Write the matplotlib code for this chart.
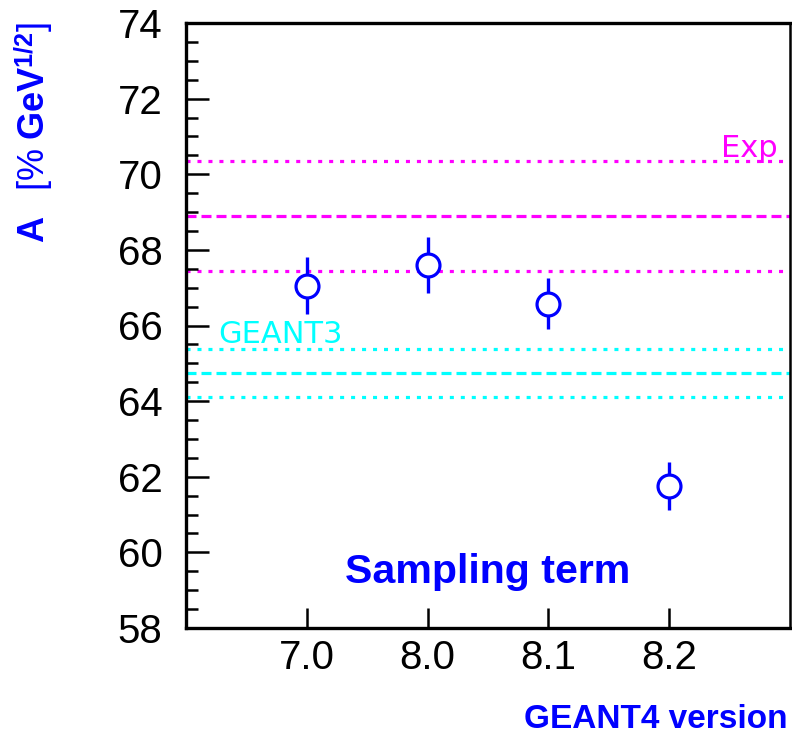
import matplotlib
matplotlib.use("Agg")
import matplotlib.pyplot as plt
import numpy as np

# Sampling term A for each GEANT4 release
versions = ["7.0", "8.0", "8.1", "8.2"]
A = [67.05, 67.60, 66.58, 61.75]
A_err = [0.75, 0.75, 0.67, 0.63]

# Reference bands: experiment and GEANT3 (central value, uncertainty)
exp_A, exp_err = 68.90, 1.45
g3_A, g3_err = 64.75, 0.64

BLUE = "#0000ff"
MAGENTA = "#ff00ff"
CYAN = "#00ffff"

plt.rcParams["lines.scale_dashes"] = False
plt.rcParams["mathtext.fontset"] = "custom"
plt.rcParams["mathtext.rm"] = "Liberation Sans"
plt.rcParams["mathtext.bf"] = "Liberation Sans:bold"
plt.rcParams["mathtext.it"] = "Liberation Serif:italic"

fig = plt.figure(figsize=(7.92, 7.35), dpi=100)
ax = fig.add_axes([186 / 792, 1 - 628 / 735, (790 - 186) / 792, (628 - 23) / 735])

x = np.arange(1, len(versions) + 1)

dotted = (0, (2.9, 5.0))
dashed = (0, (7.2, 3.6))
lw_band = 2.3

# Experimental band
ax.axhline(exp_A + exp_err, color=MAGENTA, lw=lw_band, ls=dotted, zorder=1)
ax.axhline(exp_A, color=MAGENTA, lw=lw_band, ls=dashed, zorder=1)
ax.axhline(exp_A - exp_err, color=MAGENTA, lw=lw_band, ls=dotted, zorder=1)

# GEANT3 band
ax.axhline(g3_A + g3_err, color=CYAN, lw=lw_band, ls=dotted, zorder=1)
ax.axhline(g3_A, color=CYAN, lw=lw_band, ls=dashed, zorder=1)
ax.axhline(g3_A - g3_err, color=CYAN, lw=lw_band, ls=dotted, zorder=1)

ax.errorbar(x, A, yerr=A_err, fmt="o", color=BLUE, ecolor=BLUE,
            elinewidth=2.4, capsize=0, markersize=16.5,
            markerfacecolor="white", markeredgecolor=BLUE,
            markeredgewidth=2.3, zorder=3)

ax.text(778 / 792, 1 - 157 / 735, "Exp", transform=fig.transFigure,
        color=MAGENTA, fontsize=22, family="DejaVu Sans",
        ha="right", va="baseline")
ax.text(218 / 792, 1 - 343 / 735, "GEANT3", transform=fig.transFigure,
        color=CYAN, fontsize=22, family="DejaVu Sans",
        ha="left", va="baseline")

ax.text(488 / 792, 1 - 583 / 735, "Sampling term", transform=fig.transFigure,
        color=BLUE, fontsize=29.6, fontweight="bold", family="Liberation Sans",
        ha="center", va="baseline")

ax.set_xlim(0, 5)
ax.set_ylim(58, 74)
ax.set_xticks(x)
ax.set_xticklabels(versions)
ax.set_yticks(np.arange(58, 75, 2))
ax.set_yticks(np.arange(58, 74.01, 0.5), minor=True)
ax.xaxis.set_minor_locator(matplotlib.ticker.NullLocator())

for lab in ax.get_xticklabels() + ax.get_yticklabels():
    lab.set_family("Liberation Sans")
    lab.set_fontsize(29)

ax.tick_params(axis="y", which="major", direction="in", length=16.5, width=1.8,
               pad=17, left=True, right=False)
ax.tick_params(axis="y", which="minor", direction="in", length=8.6, width=1.8,
               left=True, right=False)
ax.tick_params(axis="x", which="major", direction="in", length=14.5, width=1.8,
               pad=8, bottom=True, top=False)

for side in ["left", "bottom", "top"]:
    ax.spines[side].set_linewidth(2.4)
ax.spines["right"].set_linewidth(1.8)

fig.text(788 / 792, 1 - 728 / 735, "GEANT4 version", color=BLUE,
         fontsize=24, fontweight="bold", family="Liberation Sans",
         ha="right", va="baseline")

fig.text(55 / 792, 1 - 22 / 735,
         r"$\mathbf{A}\ \ \ [\mathit{\%}\ \mathbf{GeV}^{\mathbf{1/2}}]$",
         color=BLUE, fontsize=26, rotation=90, ha="right", va="top")

fig.savefig("out.png", dpi=100)
